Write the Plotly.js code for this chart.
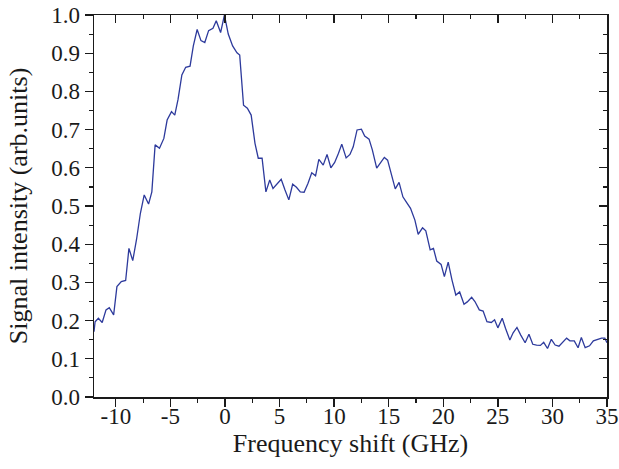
<!DOCTYPE html>
<html>
<head>
<meta charset="utf-8">
<script src="https://cdn.plot.ly/plotly-3.0.1.min.js"></script>
<style>html,body{margin:0;padding:0;background:#fff;}#chart{width:619px;height:469px;}</style>
</head>
<body>
<div id="chart"></div>
<script>
const freqShift = [-12.0,-11.9,-11.6,-11.25,-10.9,-10.6,-10.2,-9.9,-9.5,-9.1,-8.8,-8.45,-8.1,-7.75,-7.4,-7.0,-6.7,-6.4,-6.0,-5.6,-5.3,-4.9,-4.6,-4.3,-3.95,-3.6,-3.2,-2.9,-2.55,-2.2,-1.85,-1.5,-1.1,-0.8,-0.4,-0.05,0.3,0.7,1.1,1.35,1.7,2.05,2.4,2.75,3.05,3.4,3.75,4.1,4.4,4.8,5.15,5.5,5.85,6.2,6.55,6.9,7.25,7.6,7.95,8.3,8.6,9.0,9.35,9.7,10.05,10.4,10.7,11.1,11.45,11.75,12.1,12.5,12.8,13.2,13.5,13.9,14.25,14.6,14.9,15.3,15.6,15.95,16.3,16.65,17.0,17.4,17.7,18.1,18.4,18.8,19.1,19.4,19.8,20.1,20.45,20.8,21.15,21.5,21.9,22.2,22.6,22.9,23.3,23.65,24.0,24.4,24.7,25.0,25.4,25.7,26.1,26.4,26.75,27.1,27.5,27.85,28.2,28.55,28.9,29.2,29.55,29.9,30.25,30.6,30.9,31.3,31.6,32.0,32.35,32.65,33.0,33.4,33.75,34.1,34.5,34.8,35.0];
const intensity = [0.171,0.197,0.206,0.195,0.228,0.234,0.215,0.289,0.302,0.305,0.389,0.357,0.413,0.481,0.529,0.505,0.537,0.660,0.651,0.677,0.725,0.747,0.738,0.779,0.843,0.863,0.866,0.919,0.962,0.933,0.928,0.959,0.965,0.985,0.954,1.0,0.950,0.919,0.901,0.895,0.764,0.756,0.738,0.664,0.625,0.625,0.537,0.568,0.546,0.558,0.570,0.542,0.516,0.557,0.549,0.537,0.536,0.559,0.587,0.579,0.622,0.607,0.635,0.600,0.614,0.638,0.662,0.626,0.635,0.655,0.699,0.701,0.683,0.675,0.647,0.599,0.613,0.627,0.620,0.574,0.545,0.562,0.524,0.509,0.494,0.463,0.426,0.443,0.435,0.385,0.389,0.356,0.347,0.315,0.353,0.306,0.267,0.275,0.243,0.249,0.261,0.250,0.228,0.225,0.197,0.195,0.202,0.181,0.206,0.180,0.149,0.168,0.182,0.162,0.142,0.164,0.138,0.136,0.135,0.143,0.127,0.151,0.136,0.133,0.142,0.154,0.147,0.147,0.129,0.156,0.129,0.134,0.147,0.151,0.154,0.154,0.142];
const xTickVals = [-10,-5,0,5,10,15,20,25,30,35];
const xTickText = ['-10','-5','0','5','10','15','20','25','30','35'];
const yTickVals = [0,0.1,0.2,0.3,0.4,0.5,0.6,0.7,0.8,0.9,1.0];
const yTickText = ['0.0','0.1','0.2','0.3','0.4','0.5','0.6','0.7','0.8','0.9','1.0'];

const fam = 'Liberation Serif, Times New Roman, serif';
const ink = '#1a1a1a';
const trace = {x:freqShift, y:intensity, type:'scatter', mode:'lines',
  line:{color:'#2d3a9c', width:1.3}, hoverinfo:'skip', showlegend:false};
// same data on the mirrored frame axes (invisible) so the top/right axes are drawn
const frameTrace = {x:freqShift, y:intensity, type:'scatter', mode:'lines', xaxis:'x2', yaxis:'y2',
  line:{color:'#2d3a9c', width:1.2}, opacity:0, hoverinfo:'skip', showlegend:false};

const layout = {
  width:619, height:469,
  margin:{l:94, r:12, t:15, b:72},
  paper_bgcolor:'#fff', plot_bgcolor:'#fff',
  font:{family:fam, color:ink},
  showlegend:false,
  xaxis:{range:[-12,35], tickvals:xTickVals, ticktext:xTickText, ticks:'outside', ticklen:8, tickwidth:1.3, tickcolor:ink,
    minor:{dtick:2.5, tick0:0, ticks:'outside', ticklen:4, tickwidth:1.2, tickcolor:ink},
    showline:true, linecolor:ink, linewidth:1.5, showgrid:false, zeroline:false, ticklabelstandoff:-10,
    tickfont:{size:23, family:fam, color:ink},
    title:{text:'Frequency shift (GHz)', font:{size:26, family:fam, color:ink}, standoff:4}},
  yaxis:{range:[0,1.0], tickvals:yTickVals, ticktext:yTickText, ticks:'outside', ticklen:8, tickwidth:1.3, tickcolor:ink,
    minor:{dtick:0.05, tick0:0, ticks:'outside', ticklen:4, tickwidth:1.2, tickcolor:ink},
    showline:true, linecolor:ink, linewidth:1.5, showgrid:false, zeroline:false,
    tickfont:{size:23, family:fam, color:ink},
    title:{text:'Signal intensity (arb.units)', font:{size:26, family:fam, color:ink}, standoff:16}},
  xaxis2:{range:[-12,35], overlaying:'x', side:'top', anchor:'y2', tickvals:xTickVals, showticklabels:false,
    ticks:'inside', ticklen:8, tickwidth:1.3, tickcolor:ink,
    minor:{dtick:2.5, tick0:0, ticks:'inside', ticklen:4, tickwidth:1.2, tickcolor:ink},
    showline:true, linecolor:ink, linewidth:1.5, showgrid:false, zeroline:false},
  yaxis2:{range:[0,1.0], overlaying:'y', side:'right', anchor:'x2', tickvals:yTickVals, showticklabels:false,
    ticks:'inside', ticklen:8, tickwidth:1.3, tickcolor:ink,
    minor:{dtick:0.05, tick0:0, ticks:'inside', ticklen:4, tickwidth:1.2, tickcolor:ink},
    showline:true, linecolor:ink, linewidth:1.5, showgrid:false, zeroline:false}
};
Plotly.newPlot('chart', [trace, frameTrace], layout, {displayModeBar:false, staticPlot:true});
</script>
</body>
</html>
